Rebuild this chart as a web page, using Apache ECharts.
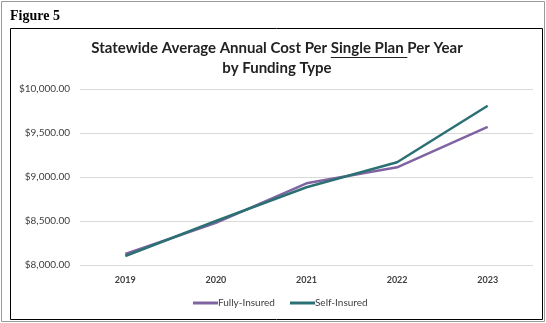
<!DOCTYPE html>
<html>
<head>
<meta charset="utf-8">
<script src="https://cdn.jsdelivr.net/npm/echarts@6/dist/echarts.min.js"></script>
<style>
  html, body { margin: 0; padding: 0; background: #fff; }
  #chart { width: 546px; height: 323px; }
</style>
</head>
<body>
<div id="chart"></div>
<script>
var years = ['2019', '2020', '2021', '2022', '2023']
var fullyInsured = [8125, 8478, 8928, 9110, 9570]
var selfInsured = [8102, 8500, 8883, 9167, 9810]
var yTicks = { min: 8000, max: 10000, interval: 500 }

var titleLine1 = 'Statewide Average Annual Cost Per Single Plan Per Year'
var titleLine2 = 'by Funding Type'
var titleFont = 'bold 15px Lato'

// work out where "Single Plan " sits so it can be underlined
var ctx = document.createElement('canvas').getContext('2d')
ctx.font = titleFont
var fullW = ctx.measureText(titleLine1).width
var preW = ctx.measureText('Statewide Average Annual Cost Per ').width
var ulW = ctx.measureText('Single Plan ').width
var titleCx = 277
var ulX = titleCx - fullW / 2 + preW

var chart = echarts.init(document.getElementById('chart'))

var option = {
    animation: false,
    backgroundColor: '#fff',
    textStyle: { fontFamily: 'Lato, "Open Sans", sans-serif' },
    graphic: [
        // outer page frame
        { type: 'rect', shape: { x: 1.5, y: 1.5, width: 543, height: 320 },
          style: { fill: 'none', stroke: '#9a9a9a', lineWidth: 1 } },
        // chart frame
        { type: 'rect', shape: { x: 10.5, y: 28.5, width: 532, height: 291 },
          style: { fill: 'none', stroke: '#000', lineWidth: 1 } },
        { type: 'text', left: 10, top: 9,
          style: { text: 'Figure 5', font: 'bold 14px "Liberation Serif", serif', fill: '#000' } },
        { type: 'text', x: titleCx, y: 48,
          style: { text: titleLine1, font: titleFont, fill: '#222', align: 'center', verticalAlign: 'middle' } },
        { type: 'text', x: titleCx, y: 68,
          style: { text: titleLine2, font: titleFont, fill: '#222', align: 'center', verticalAlign: 'middle' } },
        // underline under "Single Plan"
        { type: 'line', shape: { x1: ulX, y1: 57.5, x2: ulX + ulW, y2: 57.5 },
          style: { stroke: '#222', lineWidth: 1 } }
    ],
    grid: { left: 80, right: 13, top: 89, bottom: 58 },
    legend: {
        bottom: 10,
        left: 188,
        itemWidth: 25,
        itemHeight: 3,
        itemGap: 15,
        icon: 'rect',
        textStyle: { fontSize: 10, color: '#404040', padding: [0, 0, 0, -5] },
        data: ['Fully-Insured', 'Self-Insured']
    },
    xAxis: {
        type: 'category',
        data: years,
        boundaryGap: true,
        axisLine: { show: false },
        axisTick: { show: false },
        axisLabel: { fontSize: 9, fontWeight: 'bold', color: '#404040', margin: 11 }
    },
    yAxis: {
        type: 'value',
        min: yTicks.min,
        max: yTicks.max,
        interval: yTicks.interval,
        axisLine: { show: false },
        axisTick: { show: false },
        splitLine: { lineStyle: { color: '#d9d9d9', width: 1 } },
        axisLabel: {
            fontSize: 10,
            color: '#404040',
            margin: 10,
            formatter: function (v) {
                return '$' + v.toLocaleString('en-US', { minimumFractionDigits: 2, maximumFractionDigits: 2 })
            }
        }
    },
    series: [
        {
            name: 'Fully-Insured',
            type: 'line',
            data: fullyInsured,
            symbol: 'none',
            lineStyle: { color: '#8064a2', width: 2.5 },
            itemStyle: { color: '#8064a2' }
        },
        {
            name: 'Self-Insured',
            type: 'line',
            data: selfInsured,
            symbol: 'none',
            lineStyle: { color: '#2b7174', width: 2.5 },
            itemStyle: { color: '#2b7174' }
        }
    ]
}

chart.setOption(option)
</script>
</body>
</html>
